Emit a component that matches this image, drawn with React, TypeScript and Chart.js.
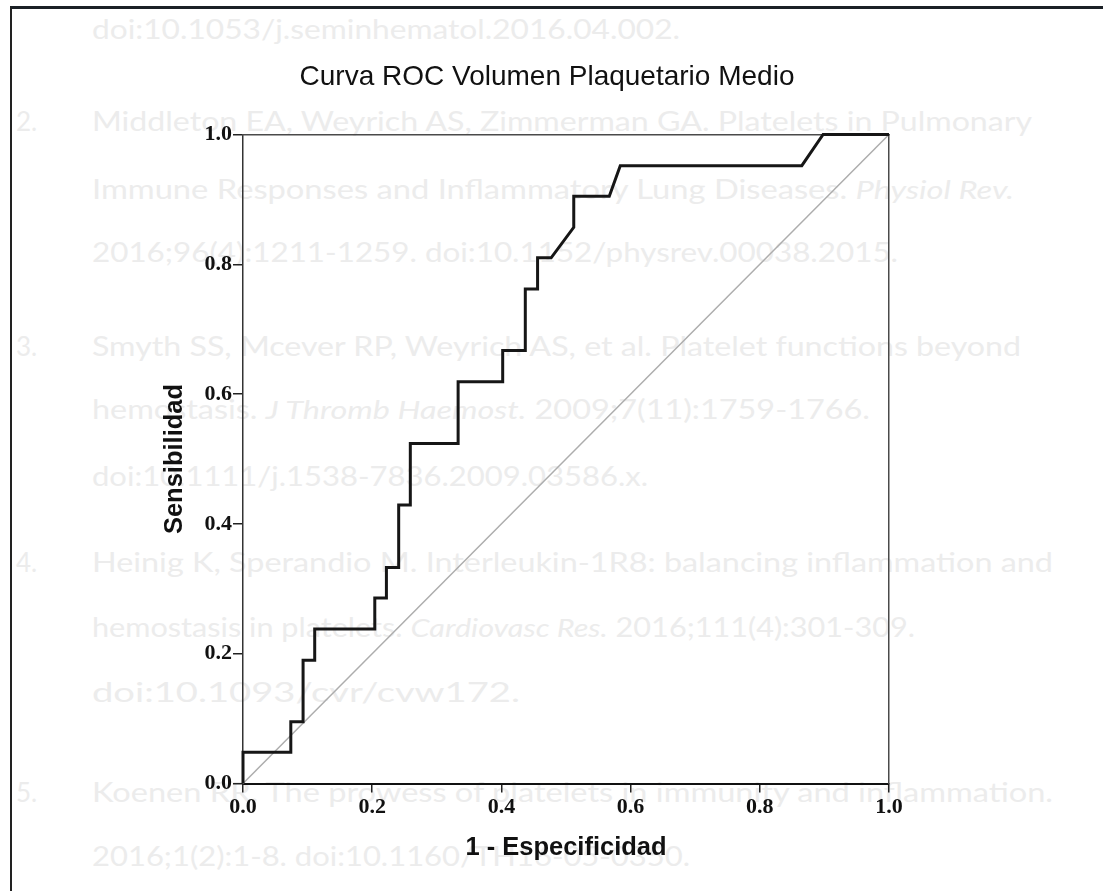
import React, { useEffect, useRef } from "react";
import { Chart, registerables } from "chart.js";

Chart.register(...registerables);

// ---- Chart data ----
const chartTitle = "Curva ROC Volumen Plaquetario Medio";
const xAxisTitle = "1 - Especificidad";
const yAxisTitle = "Sensibilidad";
const tickValues = [0, 0.2, 0.4, 0.6, 0.8, 1.0];
const tickLabels = ["0.0", "0.2", "0.4", "0.6", "0.8", "1.0"];

// ROC curve vertices (1 - especificidad, sensibilidad)
const rocFpr = [
  0, 0, 0.074, 0.074, 0.093, 0.093, 0.111, 0.111, 0.204, 0.204, 0.222, 0.222,
  0.241, 0.241, 0.259, 0.259, 0.333, 0.333, 0.402, 0.402, 0.437, 0.437, 0.456,
  0.456, 0.477, 0.512, 0.512, 0.567, 0.584, 0.865, 0.898, 1.0,
];
const rocTpr = [
  0, 0.048, 0.048, 0.095, 0.095, 0.19, 0.19, 0.238, 0.238, 0.286, 0.286, 0.333,
  0.333, 0.429, 0.429, 0.524, 0.524, 0.619, 0.619, 0.667, 0.667, 0.762, 0.762,
  0.81, 0.81, 0.857, 0.905, 0.905, 0.952, 0.952, 1.0, 1.0,
];
// Reference (chance) diagonal
const refFpr = [0, 1];
const refTpr = [0, 1];

// ---- Faded bleed-through text of the scanned page ----
type Part = [string, boolean];
const bgLines: { num?: string; y: number; w: number; parts: Part[] }[] = [
  { y: 30, w: 588, parts: [["doi:10.1053/j.seminhematol.2016.04.002.", false]] },
  { num: "2.", y: 122, w: 940, parts: [["Middleton EA, Weyrich AS, Zimmerman GA. Platelets in Pulmonary", false]] },
  { y: 190, w: 922, parts: [["Immune Responses and Inflammatory Lung Diseases. ", false], ["Physiol Rev.", true]] },
  { y: 253, w: 806, parts: [["2016;96(4):1211-1259. doi:10.1152/physrev.00038.2015.", false]] },
  { num: "3.", y: 347, w: 929, parts: [["Smyth SS, Mcever RP, Weyrich AS, et al. Platelet functions beyond", false]] },
  { y: 410, w: 778, parts: [["hemostasis. ", false], ["J Thromb Haemost.", true], [" 2009;7(11):1759-1766.", false]] },
  { y: 477, w: 556, parts: [["doi:10.1111/j.1538-7836.2009.03586.x.", false]] },
  { num: "4.", y: 563, w: 961, parts: [["Heinig K, Sperandio M. Interleukin-1R8: balancing inflammation and", false]] },
  { y: 628, w: 823, parts: [["hemostasis in platelets. ", false], ["Cardiovasc Res.", true], [" 2016;111(4):301-309.", false]] },
  { y: 693, w: 428, parts: [["doi:10.1093/cvr/cvw172.", false]] },
  { num: "5.", y: 793, w: 961, parts: [["Koenen RR. The prowess of platelets in immunity and inflammation.", false]] },
  { y: 857, w: 598, parts: [["2016;1(2):1-8. doi:10.1160/TH16-05-0350.", false]] },
];

const sansFont = '"Liberation Sans", Arial, sans-serif';
const serifFont = '"Liberation Serif", "Times New Roman", serif';

export default function App() {
  const canvasRef = useRef<HTMLCanvasElement | null>(null);

  useEffect(() => {
    const canvas = canvasRef.current;
    if (!canvas) return;

    const setTicks = (s: any) => {
      s.ticks = tickValues.map((v) => ({ value: v }));
    };

    const chart = new Chart(canvas, {
      type: "line",
      data: {
        datasets: [
          {
            label: "Curva ROC",
            data: rocFpr.map((x, i) => ({ x, y: rocTpr[i] })),
            borderColor: "#161616",
            borderWidth: 3,
            pointRadius: 0,
            fill: false,
            tension: 0,
            clip: false,
            order: 0,
            xAxisID: "x",
            yAxisID: "y",
          },
          {
            label: "Referencia",
            data: refFpr.map((x, i) => ({ x, y: refTpr[i] })),
            borderColor: "#adadad",
            borderWidth: 1.5,
            pointRadius: 0,
            fill: false,
            tension: 0,
            clip: false,
            order: 1,
            xAxisID: "x",
            yAxisID: "y",
          },
        ],
      },
      options: {
        responsive: false,
        animation: false,
        devicePixelRatio: 1,
        layout: { padding: { left: 20, right: 29, top: 0, bottom: 10 } },
        plugins: {
          legend: { display: false },
          tooltip: { enabled: false },
          title: {
            display: true,
            text: chartTitle,
            color: "#111",
            font: { family: sansFont, size: 28, weight: "normal", lineHeight: 1.2 },
            padding: { top: 60, bottom: 10 },
          },
        },
        scales: {
          x: {
            type: "linear",
            position: "bottom",
            min: 0,
            max: 1,
            afterBuildTicks: setTicks,
            afterFit: (s: any) => {
              s.height = 97.5;
            },
            ticks: {
              callback: (_v: any, i: number) => tickLabels[i],
              font: { family: serifFont, size: 22, weight: "bold" },
              color: "#111",
              padding: 2,
              maxRotation: 0,
              autoSkip: false,
            },
            grid: {
              display: true,
              drawOnChartArea: false,
              drawTicks: true,
              tickLength: 9,
              color: "#222",
              lineWidth: 1.5,
            },
            border: { display: true, color: "#111", width: 2 },
            title: {
              display: true,
              text: xAxisTitle,
              color: "#111",
              font: { family: sansFont, size: 25.5, weight: "bold", lineHeight: 1.2 },
              padding: { top: 0, bottom: 17.7 },
            },
          },
          y: {
            type: "linear",
            position: "left",
            min: 0,
            max: 1,
            afterBuildTicks: setTicks,
            afterFit: (s: any) => {
              s.width = 223;
            },
            ticks: {
              callback: (_v: any, i: number) => tickLabels[i],
              font: { family: serifFont, size: 22, weight: "bold" },
              color: "#111",
              padding: 1,
              autoSkip: false,
            },
            grid: {
              display: true,
              drawOnChartArea: false,
              drawTicks: true,
              tickLength: 10,
              color: "#222",
              lineWidth: 1.5,
            },
            border: { display: true, color: "#333", width: 1.5 },
            title: {
              display: true,
              text: yAxisTitle,
              color: "#111",
              font: { family: sansFont, size: 25.5, weight: "bold", lineHeight: 1.2 },
              padding: { top: 140, bottom: 0 },
            },
          },
          xTop: {
            type: "linear",
            axis: "x",
            position: "top",
            min: 0,
            max: 1,
            afterFit: (s: any) => {
              s.height = 30.9;
            },
            ticks: { display: false },
            grid: { display: false, drawTicks: false },
            border: { display: true, color: "#4a4a4a", width: 1.5 },
          },
          yRight: {
            type: "linear",
            axis: "y",
            position: "right",
            min: 0,
            max: 1,
            afterFit: (s: any) => {
              s.width = 185;
            },
            ticks: { display: false },
            grid: { display: false, drawTicks: false },
            border: { display: true, color: "#4a4a4a", width: 1.5 },
          },
        },
      } as any,
    });

    return () => chart.destroy();
  }, []);

  return (
    <div
      style={{
        position: "absolute",
        left: 0,
        top: 0,
        width: 1103,
        height: 891,
        overflow: "hidden",
        background: "#ffffff",
      }}
    >
      <svg
        width={1103}
        height={891}
        style={{ position: "absolute", left: 0, top: 0 }}
      >
        {bgLines.map((ln, i) => (
          <g key={i} fill="#ececec" fontFamily="Lato, 'Open Sans', sans-serif" fontSize={26}>
            {ln.num ? (
              <text x={16} y={ln.y + 9}>
                {ln.num}
              </text>
            ) : null}
            <text x={92} y={ln.y + 9} textLength={ln.w} lengthAdjust="spacingAndGlyphs">
              {ln.parts.map((p, j) => (
                <tspan key={j} fontStyle={p[1] ? "italic" : "normal"}>
                  {p[0]}
                </tspan>
              ))}
            </text>
          </g>
        ))}
      </svg>
      <div
        style={{
          position: "absolute",
          left: 10,
          top: 6,
          width: 1093,
          height: 885,
          borderTop: "3px solid #1b2026",
          borderLeft: "2px solid #222",
          boxSizing: "border-box",
        }}
      />
      <canvas
        ref={canvasRef}
        width={1103}
        height={891}
        style={{ position: "absolute", left: 0, top: 0, display: "block" }}
      />
    </div>
  );
}
